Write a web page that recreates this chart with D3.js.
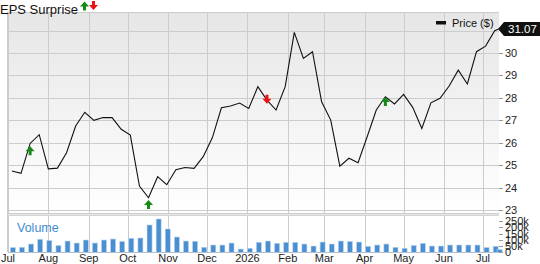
<!DOCTYPE html>
<html><head><meta charset="utf-8">
<script src="https://cdn.jsdelivr.net/npm/d3@7"></script>
<style>
html,body{margin:0;padding:0;background:#fff;}
svg{display:block;font-family:"Liberation Sans",Arial,sans-serif;}
</style></head>
<body>
<svg id="c" width="540" height="264"></svg>
<script>
const dates = ["2025-07-04","2025-07-11","2025-07-18","2025-07-25","2025-08-01","2025-08-08","2025-08-15","2025-08-22","2025-08-29",
"2025-09-05","2025-09-12","2025-09-19","2025-09-26","2025-10-03","2025-10-10","2025-10-17","2025-10-24","2025-10-31",
"2025-11-07","2025-11-14","2025-11-21","2025-11-28","2025-12-05","2025-12-12","2025-12-19","2025-12-26",
"2026-01-02","2026-01-09","2026-01-16","2026-01-23","2026-01-30","2026-02-06","2026-02-13","2026-02-20","2026-02-27",
"2026-03-06","2026-03-13","2026-03-20","2026-03-27","2026-04-03","2026-04-10","2026-04-17","2026-04-24",
"2026-05-01","2026-05-08","2026-05-15","2026-05-22","2026-05-29","2026-06-05","2026-06-12","2026-06-19","2026-06-26",
"2026-07-03","2026-07-10","2026-07-13"];
const prices = [24.74,24.64,25.97,26.36,24.84,24.87,25.56,26.75,27.36,27.0,27.13,27.12,26.6,26.34,24.07,23.55,24.49,24.13,
24.80,24.90,24.86,25.38,26.22,27.56,27.64,27.77,27.53,28.50,27.90,27.46,28.5,30.92,29.76,30.06,27.83,27.01,24.96,25.31,
25.11,26.27,27.46,28.05,27.73,28.16,27.58,26.64,27.78,27.98,28.53,29.24,28.62,30.06,30.31,31.0,31.07];
const volumes = [38,40,66,104,94,54,90,74,98,74,98,106,86,112,114,218,266,186,122,90,88,40,58,58,74,26,32,80,90,
72,80,80,66,50,82,66,90,86,82,48,58,66,40,32,54,72,50,50,58,58,58,58,38,48,22].map(v=>v*1000);
const priceTicks = [23,24,25,26,27,28,29,30];
const volTicks = [0,50000,100000,150000,200000,250000];
const volTickLabels = ["0","50k","100k","150k","200k","250k"];
const monthTicks = ["2025-07-01","2025-08-01","2025-09-01","2025-10-01","2025-11-01","2025-12-01","2026-01-01",
"2026-02-01","2026-03-01","2026-04-01","2026-05-01","2026-06-01","2026-07-01"];
const monthLabels = ["Jul","Aug","Sep","Oct","Nov","Dec","2026","Feb","Mar","Apr","May","Jun","Jul"];
const epsDates = ["2025-07-18","2025-10-17","2026-01-16","2026-04-17"];
const epsLevels = [25.85,23.45,28.1,28.04];
const epsTypes = ["up","up","down","up"];
const lastLabel = "31.07";

const parse = d3.timeParse("%Y-%m-%d");
const D = dates.map(parse);
const svg = d3.select("#c");
const L = 8, R = 499, T = 12, PB = 213, VT = 216, VB = 252;

const x = d3.scaleTime().domain([parse("2025-07-01"), parse("2026-07-14")]).range([L, R+0.9]);
const y = d3.scaleLinear().domain([22.87, 31.83]).range([PB, T]);
const yv = d3.scaleLinear().domain([0, 250000]).range([252.3, 221]);

const defs = svg.append("defs");
const g = defs.append("linearGradient").attr("id","bg").attr("x1",0).attr("x2",0).attr("y1",0).attr("y2",1);
g.append("stop").attr("offset","0%").attr("stop-color","#e6e6e6");
g.append("stop").attr("offset","100%").attr("stop-color","#ffffff");

svg.append("rect").attr("x",L).attr("y",T).attr("width",R-L).attr("height",PB-T).attr("fill","url(#bg)");

const gridC = "#cccccc";
svg.append("g").selectAll("line").data(priceTicks.concat([31])).join("line")
  .attr("x1",L).attr("x2",R).attr("y1",d=>Math.round(y(d))+0.5).attr("y2",d=>Math.round(y(d))+0.5)
  .attr("stroke",gridC).attr("stroke-width",1);
svg.append("g").selectAll("line").data(monthTicks.map(parse)).join("line")
  .attr("x1",d=>Math.round(x(d))+0.5).attr("x2",d=>Math.round(x(d))+0.5).attr("y1",T).attr("y2",VB)
  .attr("stroke",gridC).attr("stroke-width",1);
svg.append("line").attr("x1",L-0.5).attr("x2",L-0.5).attr("y1",T).attr("y2",VB).attr("stroke",gridC);
svg.append("line").attr("x1",L).attr("x2",R).attr("y1",T+0.5).attr("y2",T+0.5).attr("stroke",gridC);
svg.append("rect").attr("x",L).attr("y",PB).attr("width",R-L).attr("height",VT-PB).attr("fill","#e4e4e4");
svg.append("line").attr("x1",L).attr("x2",R).attr("y1",PB+0.5).attr("y2",PB+0.5).attr("stroke","#d0d0d0");
svg.append("line").attr("x1",L).attr("x2",R).attr("y1",VT-0.5).attr("y2",VT-0.5).attr("stroke","#d6d6d6");
svg.append("line").attr("x1",L).attr("x2",R).attr("y1",VB+0.5).attr("y2",VB+0.5).attr("stroke","#bbbbbb");

svg.append("g").selectAll("rect").data(volumes).join("rect")
  .attr("x",(d,i)=>x(D[i])-1.5).attr("width",5)
  .attr("y",d=>yv(d)).attr("height",d=>yv(0)-yv(d))
  .attr("fill","#4a8fd1").attr("stroke","#b9d3ee").attr("stroke-width",0.6);

svg.append("text").attr("x",17).attr("y",232).attr("fill","#3d8bcf").attr("font-size",12.5).text("Volume");

const line = d3.line().x((d,i)=>x(D[i])).y(d=>y(d));
svg.append("path").datum(prices).attr("d",line).attr("fill","none").attr("stroke","#111").attr("stroke-width",1.1);

function arrow(sel, cx, top, type){
  let p;
  if(type==="up"){
    p = [[cx,top],[cx+4.5,top+5],[cx+1.5,top+5],[cx+1.5,top+9],[cx-1.5,top+9],[cx-1.5,top+5],[cx-4.5,top+5]];
  } else {
    const b = top+8;
    p = [[cx,b],[cx+4.5,b-5],[cx+1.5,b-5],[cx+1.5,b-9],[cx-1.5,b-9],[cx-1.5,b-5],[cx-4.5,b-5]];
  }
  sel.append("path").attr("d","M"+p.map(q=>q.join(",")).join("L")+"Z")
    .attr("fill", type==="up" ? "#168a16" : "#ee1111");
}
epsDates.forEach((d,i)=>{
  arrow(svg, x(parse(d)), y(epsLevels[i]), epsTypes[i]);
});

svg.append("text").attr("x",0).attr("y",14).attr("font-size",13).attr("fill","#111").text("EPS Surprise");
arrow(svg, 84.5, 1.5, "up");
arrow(svg, 93.5, 2, "down");

svg.append("rect").attr("x",436).attr("y",21).attr("width",10).attr("height",3.5).attr("fill","#111");
svg.append("text").attr("x",452).attr("y",27).attr("font-size",11).attr("fill","#111").text("Price ($)");

const ax = svg.append("g");
ax.selectAll("line").data(priceTicks).join("line")
  .attr("x1",R).attr("x2",R+4).attr("y1",d=>Math.round(y(d))+0.5).attr("y2",d=>Math.round(y(d))+0.5).attr("stroke","#999");
ax.selectAll("text").data(priceTicks).join("text")
  .attr("x",505).attr("y",d=>y(d)+4).attr("font-size",11).attr("fill","#222").text(d=>d);

const av = svg.append("g");
av.selectAll("line").data(volTicks).join("line")
  .attr("x1",R).attr("x2",R+4).attr("y1",d=>Math.round(yv(d))+0.5).attr("y2",d=>Math.round(yv(d))+0.5).attr("stroke","#999");
av.selectAll("text").data(volTicks).join("text")
  .attr("x",505).attr("y",d=>yv(d)+4).attr("font-size",11).attr("fill","#222").text((d,i)=>volTickLabels[i]);

const ly = y(prices[prices.length-1]);
const lp = [[498,ly],[504,ly-7],[540,ly-7],[540,ly+7],[504,ly+7]];
svg.append("path").attr("d","M"+lp.map(q=>q.join(",")).join("L")+"Z").attr("fill","#111");
svg.append("text").attr("x",508).attr("y",ly+4).attr("font-size",11.5).attr("fill","#fff").text(lastLabel);

svg.append("g").selectAll("text").data(monthTicks).join("text")
  .attr("x",d=>x(parse(d))).attr("y",262).attr("text-anchor","middle").attr("font-size",11).attr("fill","#222")
  .text((d,i)=>monthLabels[i]);
</script>
</body></html>
